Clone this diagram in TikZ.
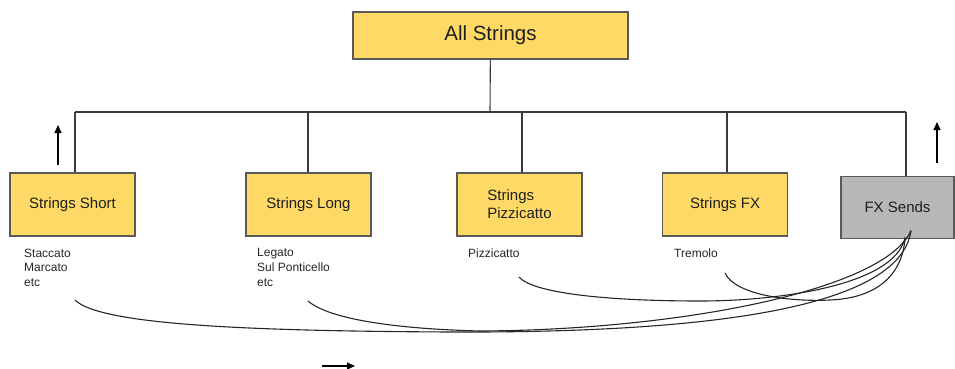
\documentclass[tikz,border=0pt]{standalone}
\usepackage{fontspec}
\setmainfont{Liberation Sans}
\usepackage{xcolor}
\usetikzlibrary{arrows.meta}
\definecolor{padyellow}{HTML}{FFD966}
\definecolor{padgray}{HTML}{B7B7B7}
\definecolor{rim}{HTML}{595959}
\definecolor{wirecol}{HTML}{3A3A3A}
\newcommand\titlefont{\fontsize{20.5}{24}\selectfont}
\newcommand\boxfont{\fontsize{15}{18}\selectfont}
\newcommand\notefont{\fontsize{12}{14.7}\selectfont}

\begin{document}
\begin{tikzpicture}[x=1pt,y=-1pt,
  track/.style={draw=rim,fill=padyellow,line width=1.2pt,minimum width=125pt,
    minimum height=63pt,inner sep=0pt,font=\boxfont,text=black!88},
  note/.style={anchor=north west,align=left,inner sep=0pt,font=\notefont,text=black!85},
  wire/.style={draw=wirecol,line width=1.1pt},
  send/.style={draw=black!85,line width=1.1pt},
  pointer/.style={draw=black,line width=1.1pt,-{Triangle[length=8pt,width=7pt]}}]
\useasboundingbox (0,0) rectangle (955,369);

\node[track,minimum width=275pt,minimum height=47pt,font=\titlefont] (all) at (490.5,35.5) {All Strings};
\node[track] (short) at (72.5,204.5) {Strings Short};
\node[track] (long) at (308.5,204.5) {Strings Long};
\node[track,align=left] (pizz) at (519.5,204.5) {Strings\\Pizzicatto};
\node[track] (sfx) at (725,204.5) {Strings FX};
\node[track,fill=padgray,minimum width=113pt,minimum height=62pt] (fx) at (897.5,207.5) {FX Sends};

\node[note] (nShort) at (24,248.5) {Staccato\\Marcato\\etc};
\node[note] (nLong) at (257,248.5) {Legato\\Sul Ponticello\\etc};
\node[note] (nPizz) at (468,248.5) {Pizzicatto};
\node[note] (nTrem) at (674,248.5) {Tremolo};

\coordinate (hub) at (490,112);
\draw[wire] (all) -- (hub);
\foreach \n/\dx in {short/2.5,long/-0.5,pizz/2.5,sfx/2,fx/8.5}{
  \coordinate (\n-top) at ([xshift=\dx pt]\n.north);
  \draw[wire] (\n-top) -- (\n-top |- hub);
}
\draw[wire] (short-top |- hub) -- (fx-top |- hub);

\coordinate (upA0) at (58,165);
\coordinate (upA1) at (58,125);
\coordinate (upB0) at (937,163);
\coordinate (upB1) at (937,122);
\coordinate (fwd0) at (322,366);
\coordinate (fwd1) at (355,366);
\draw[pointer] (upA0) -- (upA1);
\draw[pointer] (upB0) -- (upB1);
\draw[pointer] (fwd0) -- (fwd1);

\coordinate (fxA) at ([shift={(13.5,-8.5)}]fx.south);
\coordinate (fxB) at ([shift={(7.5,-1.5)}]fx.south);
\coordinate (sShort) at (75,300);
\coordinate (sLong) at (308,301);
\coordinate (sPizz) at (519,277);
\coordinate (sTrem) at (725,273);
\draw[send] (sShort) .. controls (100,325) and (250,331) .. (450,332)
  .. controls (700,333) and (900,310) .. (fxA);
\draw[send] (sLong) .. controls (330,320) and (400,329) .. (480,331)
  .. controls (680,330) and (885,290) .. (fxA);
\draw[send] (sPizz) .. controls (535,295) and (620,301) .. (700,301)
  .. controls (780,301) and (895,285) .. (fxB);
\draw[send] (sTrem) .. controls (735,295) and (790,302) .. (830,300)
  .. controls (880,298) and (903,272) .. (fxB);
\end{tikzpicture}
\end{document}
